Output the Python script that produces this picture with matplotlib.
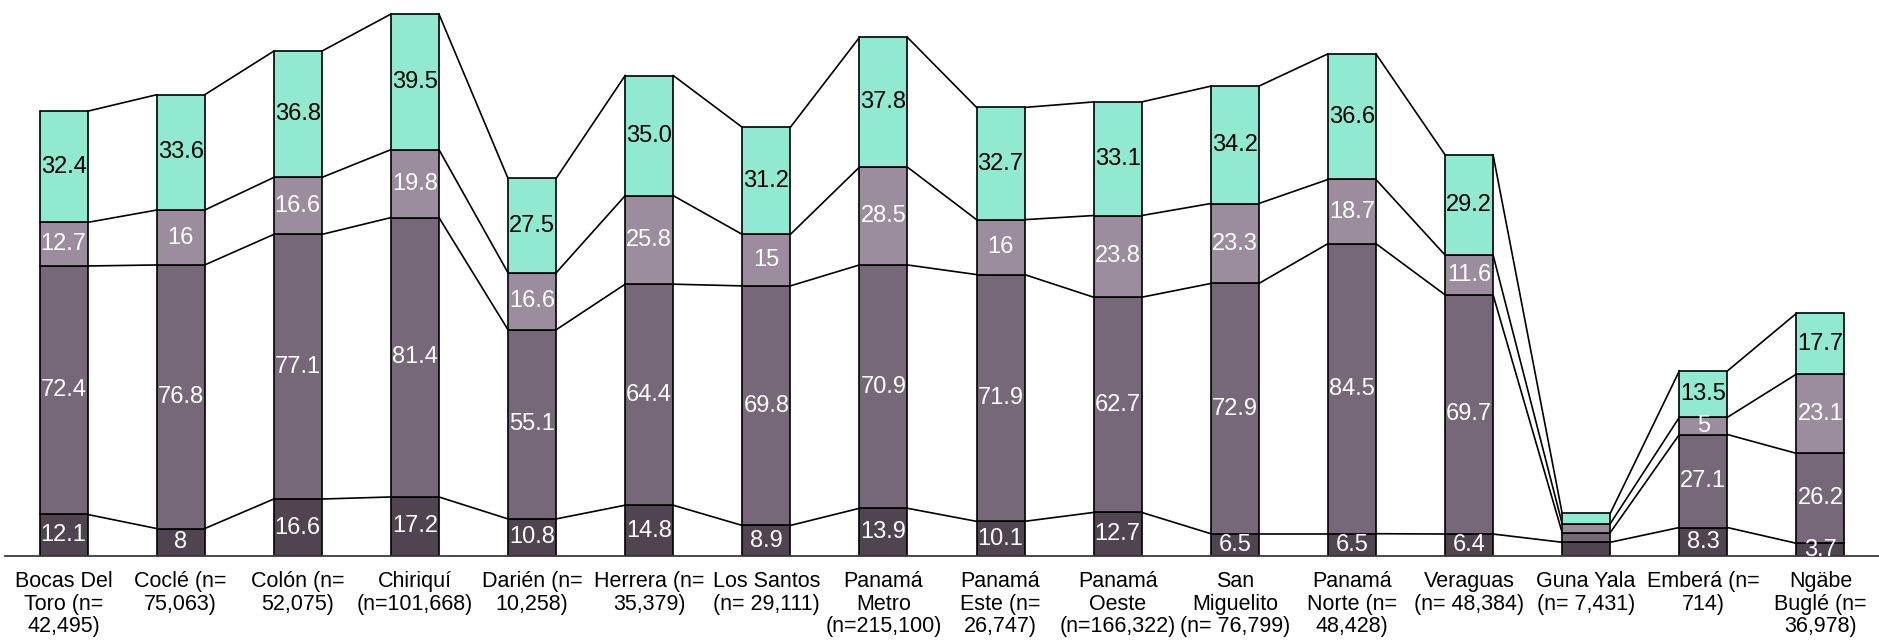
import matplotlib
matplotlib.use("Agg")
import matplotlib.pyplot as plt
import numpy as np

plt.rcParams["font.family"] = ["Liberation Sans", "DejaVu Sans"]

regions = [
    "Bocas Del\nToro (n=\n42,495)",
    "Coclé (n=\n75,063)",
    "Colón (n=\n52,075)",
    "Chiriquí\n(n=101,668)",
    "Darién (n=\n10,258)",
    "Herrera (n=\n35,379)",
    "Los Santos\n(n= 29,111)",
    "Panamá\nMetro\n(n=215,100)",
    "Panamá\nEste (n=\n26,747)",
    "Panamá\nOeste\n(n=166,322)",
    "San\nMiguelito\n(n= 76,799)",
    "Panamá\nNorte (n=\n48,428)",
    "Veraguas\n(n= 48,384)",
    "Guna Yala\n(n= 7,431)",
    "Emberá (n=\n714)",
    "Ngäbe\nBuglé (n=\n36,978)",
]

# segment values, bottom to top (as printed on the bars)
seg1 = ["12.1", "8", "16.6", "17.2", "10.8", "14.8", "8.9", "13.9",
        "10.1", "12.7", "6.5", "6.5", "6.4", "4.0", "8.3", "3.7"]
seg2 = ["72.4", "76.8", "77.1", "81.4", "55.1", "64.4", "69.8", "70.9",
        "71.9", "62.7", "72.9", "84.5", "69.7", "2.8", "27.1", "26.2"]
seg3 = ["12.7", "16", "16.6", "19.8", "16.6", "25.8", "15", "28.5",
        "16", "23.8", "23.3", "18.7", "11.6", "2.6", "5", "23.1"]
seg4 = ["32.4", "33.6", "36.8", "39.5", "27.5", "35.0", "31.2", "37.8",
        "32.7", "33.1", "34.2", "36.6", "29.2", "3.0", "13.5", "17.7"]

# bars whose segments are too small to carry a printed value
unlabeled = {"Guna Yala\n(n= 7,431)"}

series = [seg1, seg2, seg3, seg4]
colors = ["#4f4450", "#766878", "#9c8d9e", "#92e9d1"]
text_colors = ["white", "white", "white", "black"]

fig = plt.figure(figsize=(18.79, 6.43), dpi=100)
ax = fig.add_axes([5 / 1879, 87 / 643, 1 - 5 / 1879, 1 - 87 / 643])

x = np.arange(len(regions))
width = 0.41
bottom = np.zeros(len(regions))
for vals, col, tcol in zip(series, colors, text_colors):
    v = np.array([float(s) for s in vals])
    ax.bar(x, v, width, bottom=bottom, color=col, edgecolor="black",
           linewidth=1.2, zorder=2)
    top = bottom + v
    # connector lines between neighbouring bar edges at each stack level
    for i in range(len(regions) - 1):
        ax.plot([x[i] + width / 2, x[i + 1] - width / 2], [top[i], top[i + 1]],
                color="black", linewidth=1.2, zorder=1)
    for i, s in enumerate(vals):
        if regions[i] in unlabeled:
            continue
        ax.text(x[i], bottom[i] + v[i] / 2, s, ha="center", va="center",
                color=tcol, fontsize=17, zorder=3, clip_on=True)
    bottom = top

ax.set_xlim(-0.5, len(regions) - 0.5)
ax.set_ylim(0, 162)
ax.set_yticks([])
ax.set_xticks(x)
ax.set_xticklabels(regions, fontsize=15.5, linespacing=1.1)
ax.tick_params(axis="x", length=0, pad=11)
for side in ["top", "right", "left"]:
    ax.spines[side].set_visible(False)
ax.spines["bottom"].set_color("#3a3a3a")
ax.spines["bottom"].set_linewidth(1.3)

fig.savefig("out.png", dpi=100)
